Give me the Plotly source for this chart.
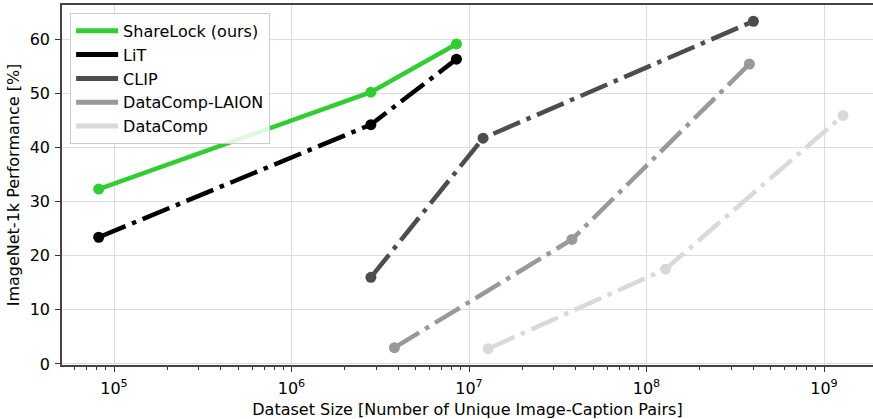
import plotly.graph_objects as go

series_names = ["ShareLock (ours)", "LiT", "CLIP", "DataComp-LAION", "DataComp"]
sharelock_x = [8.2e4, 2.8e6, 8.5e6]
sharelock_y = [32.3, 50.2, 59.1]
lit_x = [8.2e4, 2.8e6, 8.5e6]
lit_y = [23.4, 44.2, 56.3]
clip_x = [2.8e6, 1.2e7, 4.0e8]
clip_y = [16.0, 41.7, 63.3]
dclaion_x = [3.8e6, 3.8e7, 3.8e8]
dclaion_y = [3.0, 23.0, 55.4]
datacomp_x = [1.28e7, 1.28e8, 1.28e9]
datacomp_y = [2.8, 17.5, 45.9]
colors = ["#32CD32", "#000000", "#4d4d4d", "#999999", "#d9d9d9"]
dashes = ["solid", "29px,7px,4.5px,7px", "29px,7px,4.5px,7px", "29px,7px,4.5px,7px", "29px,7px,4.5px,7px"]
xtick_vals = [1e5, 1e6, 1e7, 1e8, 1e9]
xtick_text = ["10<sup>5</sup>", "10<sup>6</sup>", "10<sup>7</sup>", "10<sup>8</sup>", "10<sup>9</sup>"]
ytick_vals = [0, 10, 20, 30, 40, 50, 60]

xs = [sharelock_x, lit_x, clip_x, dclaion_x, datacomp_x]
ys = [sharelock_y, lit_y, clip_y, dclaion_y, datacomp_y]

fig = go.Figure()
# draw in reverse order so ShareLock is on top
for i in reversed(range(len(series_names))):
    fig.add_trace(go.Scatter(
        x=xs[i], y=ys[i], mode="lines+markers", name=series_names[i],
        line=dict(color=colors[i], width=4.5, dash=dashes[i]),
        marker=dict(color=colors[i], size=11),
        showlegend=False,
    ))
for i in range(len(series_names)):
    fig.add_trace(go.Scatter(
        x=[None], y=[None], mode="lines", name=series_names[i],
        line=dict(color=colors[i], width=5), legendgroup="g%d" % i,
        showlegend=True,
    ))

font = "DejaVu Sans"
fig.update_layout(
    width=873, height=419,
    margin=dict(l=62, r=0, t=5, b=54),
    plot_bgcolor="white", paper_bgcolor="white",
    font=dict(family=font, size=16, color="black"),
    legend=dict(x=0.01, y=0.978, xanchor="left", yanchor="top",
                bgcolor="rgba(255,255,255,0.85)", bordercolor="#cccccc", borderwidth=1,
                font=dict(size=16), traceorder="grouped", tracegroupgap=0, itemwidth=42),
    xaxis=dict(type="log", range=[4.707, 9.276], automargin=False,
               tickvals=xtick_vals, ticktext=xtick_text, ticklabelstandoff=3,
               ticks="outside", ticklen=5, tickwidth=1.2, tickcolor="#333",
               showline=True, linecolor="#444", linewidth=1.5, mirror=True,
               showgrid=True, gridcolor="#dcdcdc", gridwidth=1.2,
               zeroline=False,
               minor=dict(ticks="outside", ticklen=3, tickcolor="#333", dtick="D1", showgrid=False),
               title=dict(text="Dataset Size [Number of Unique Image-Caption Pairs]", standoff=7,
                          font=dict(size=16))),
    yaxis=dict(range=[-0.2, 66.3], tickvals=ytick_vals, automargin=False, ticklabelstandoff=2,
               ticks="outside", ticklen=5, tickwidth=1.2, tickcolor="#333",
               showline=True, linecolor="#444", linewidth=1.5, mirror=False,
               showgrid=True, gridcolor="#dcdcdc", gridwidth=1.2, zeroline=False,
               title=dict(text="ImageNet-1k Performance [%]", standoff=6, font=dict(size=16))),
)
fig.write_html("out.html", config={"displayModeBar": False},
               post_script="document.body.style.margin='0';document.body.style.padding='0';document.body.style.overflow='hidden';")
